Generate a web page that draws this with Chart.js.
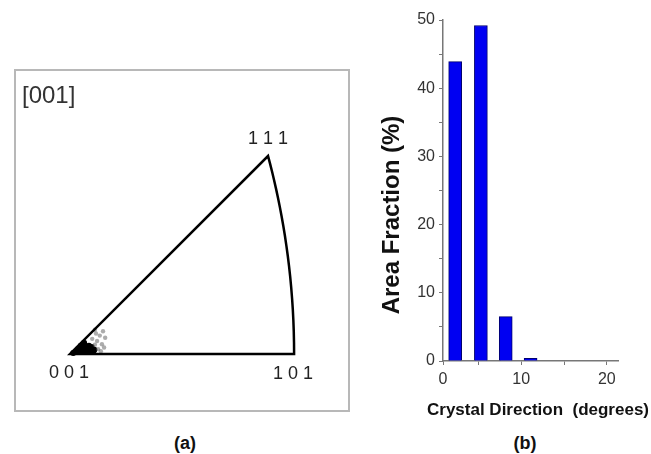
<!DOCTYPE html>
<html>
<head>
<meta charset="utf-8">
<title>Inverse pole figure and misorientation histogram</title>
<script src="https://cdn.jsdelivr.net/npm/chart.js@4/dist/chart.umd.min.js"></script>
<style>
  html, body { margin: 0; padding: 0; background: #fff; }
  body {
    width: 651px; height: 454px; position: relative; overflow: hidden;
    font-family: "Liberation Sans", Arial, sans-serif;
  }
  #pole-wrap { position: absolute; left: 15px; top: 70px; width: 334px; height: 341px; }
  #pole-frame {
    position: absolute; left: 14px; top: 69px; width: 336px; height: 343px;
    border: 2px solid #b8b8b8; box-sizing: border-box; pointer-events: none;
  }
  #hist-wrap { position: absolute; left: 360px; top: 0; width: 291px; height: 430px; }
  .panel-label {
    position: absolute; top: 432px; width: 60px; margin-left: -30px;
    text-align: center; font-weight: bold; font-size: 18px; line-height: 22px; color: #111;
  }
</style>
</head>
<body>
<div id="pole-wrap"><canvas id="pole-chart" width="334" height="341"></canvas></div>
<div id="pole-frame"></div>
<div id="hist-wrap"><canvas id="hist-chart" width="291" height="430"></canvas></div>
<div class="panel-label" style="left:185px">(a)</div>
<div class="panel-label" style="left:525px">(b)</div>
<script>
'use strict';

// Corners of the standard triangle (Miller indices) and their labels.
const triangleCorners = [[0, 0, 1], [1, 0, 1], [1, 1, 1]];
const cornerLabels = ['0 0 1', '1 0 1', '1 1 1'];

// Orientation points near [001], stereographic projection coordinates.
const coreX = [0.006, 0.013, 0.020, 0.028, 0.035, 0.043, 0.015, 0.022, 0.030, 0.037, 0.020, 0.028, 0.035, 0.026, 0.045, 0.040];
const coreY = [0.002, 0.004, 0.004, 0.004, 0.004, 0.004, 0.009, 0.009, 0.009, 0.009, 0.015, 0.015, 0.015, 0.021, 0.008, 0.013];
const scatterX = [0.046, 0.050, 0.055, 0.061, 0.052, 0.057, 0.065, 0.041, 0.048, 0.059, 0.046, 0.063];
const scatterY = [0.017, 0.024, 0.034, 0.042, 0.009, 0.005, 0.030, 0.028, 0.038, 0.018, 0.045, 0.012];

// Histogram: bin centres (degrees) and area fraction (%).
const binCentres = [2.3, 5.3, 8.2, 11.1];
const areaFraction = [43.9, 49.2, 6.5, 0.4];
const xTickValues = [0, 5, 10, 15, 20];
const xTickLabels = ['0', '', '10', '', '20'];
const yTickValues = [0, 5, 10, 15, 20, 25, 30, 35, 40, 45, 50];
const yTickLabels = ['0', '', '10', '', '20', '', '30', '', '40', '', '50'];

const fontFamily = '"Liberation Sans", Arial, sans-serif';

// Stereographic projection of a crystal direction.
function project(dir) {
  const n = Math.hypot(dir[0], dir[1], dir[2]);
  return [dir[0] / (n + dir[2]), dir[1] / (n + dir[2])];
}

// Draws the triangle outline (the 101-111 edge is a great circle) and labels.
const poleFrame = {
  id: 'poleFrame',
  afterDatasetsDraw(chart) {
    const ctx = chart.ctx;
    const sx = chart.scales.x;
    const sy = chart.scales.y;
    const toPx = (dir) => {
      const p = project(dir);
      return [sx.getPixelForValue(p[0]), sy.getPixelForValue(p[1])];
    };
    const corners = triangleCorners.map(toPx);

    ctx.save();
    ctx.strokeStyle = '#000';
    ctx.lineWidth = 2.5;
    ctx.lineJoin = 'miter';
    ctx.beginPath();
    ctx.moveTo(corners[0][0], corners[0][1]);
    ctx.lineTo(corners[1][0], corners[1][1]);
    for (let t = 0.05; t <= 1.0001; t += 0.05) {
      const p = toPx([1, t, 1]);
      ctx.lineTo(p[0], p[1]);
    }
    ctx.closePath();
    ctx.stroke();

    ctx.fillStyle = '#222';
    ctx.font = '18px ' + fontFamily;
    ctx.textAlign = 'center';
    ctx.textBaseline = 'middle';
    ctx.fillText(cornerLabels[0], corners[0][0] - 1, corners[0][1] + 19);
    ctx.fillText(cornerLabels[1], corners[1][0] - 1, corners[1][1] + 20);
    ctx.fillText(cornerLabels[2], corners[2][0], corners[2][1] - 17);

    ctx.fillStyle = '#333';
    ctx.font = '24px ' + fontFamily;
    ctx.textAlign = 'left';
    ctx.fillText('[001]', 7, 26);
    ctx.restore();
  }
};

new Chart(document.getElementById('pole-chart').getContext('2d'), {
  type: 'scatter',
  data: {
    datasets: [
      {
        data: scatterX.map((x, i) => ({ x: x, y: scatterY[i] })),
        backgroundColor: 'rgba(90, 90, 90, 0.5)',
        borderWidth: 0,
        pointRadius: 2.2
      },
      {
        data: coreX.map((x, i) => ({ x: x, y: coreY[i] })),
        backgroundColor: '#000',
        borderWidth: 0,
        pointRadius: 3
      }
    ]
  },
  options: {
    responsive: false,
    animation: false,
    layout: { padding: 0, autoPadding: false },
    plugins: { legend: { display: false }, tooltip: { enabled: false } },
    scales: {
      x: { type: 'linear', display: false, min: -0.1017, max: 0.5157 },
      y: { type: 'linear', display: false, min: -0.1054, max: 0.525 }
    }
  },
  plugins: [poleFrame]
});

// Axis titles placed where the original figure has them.
const histTitles = {
  id: 'histTitles',
  afterDraw(chart) {
    const ctx = chart.ctx;
    ctx.save();
    ctx.fillStyle = '#111';
    ctx.textAlign = 'center';
    ctx.textBaseline = 'middle';
    ctx.font = 'bold 17px ' + fontFamily;
    ctx.fillText('Crystal Direction  (degrees)', 178, 410);
    ctx.translate(32, 215);
    ctx.rotate(-Math.PI / 2);
    ctx.font = 'bold 24px ' + fontFamily;
    ctx.fillText('Area Fraction (%)', 0, 0);
    ctx.restore();
  }
};

new Chart(document.getElementById('hist-chart').getContext('2d'), {
  type: 'bar',
  data: {
    datasets: [{
      data: binCentres.map((x, i) => ({ x: x, y: areaFraction[i] })),
      backgroundColor: '#0000f2',
      borderColor: '#00006e',
      borderWidth: 1,
      barThickness: 13
    }]
  },
  options: {
    responsive: false,
    animation: false,
    layout: { padding: { top: 20, right: 33, left: 0, bottom: 0 } },
    plugins: { legend: { display: false }, tooltip: { enabled: false } },
    scales: {
      x: {
        type: 'linear',
        offset: false,
        min: 0.88,
        max: 21.3,
        afterBuildTicks: function (axis) {
          axis.ticks = xTickValues.map(v => ({ value: Math.max(v, axis.min) }));
        },
        afterFit: function (scale) {
          scale.height = 69;
        },
        ticks: {
          autoSkip: false,
          maxRotation: 0,
          padding: 5,
          color: '#333',
          font: { family: fontFamily, size: 16 },
          callback: function (value, index) {
            return xTickLabels[index];
          }
        },
        grid: { offset: false, drawOnChartArea: false, tickLength: 4, color: '#777' },
        border: { color: '#777', width: 1.5 }
      },
      y: {
        min: 0,
        max: 50,
        afterBuildTicks: function (axis) {
          axis.ticks = yTickValues.map(v => ({ value: v }));
        },
        afterFit: function (scale) {
          scale.width = 83;
        },
        ticks: {
          autoSkip: false,
          padding: 4,
          color: '#333',
          font: { family: fontFamily, size: 16 },
          callback: function (value, index) {
            return yTickLabels[index];
          }
        },
        grid: { drawOnChartArea: false, tickLength: 4, color: '#777' },
        border: { color: '#777', width: 1.5 }
      }
    }
  },
  plugins: [histTitles]
});
</script>
</body>
</html>
